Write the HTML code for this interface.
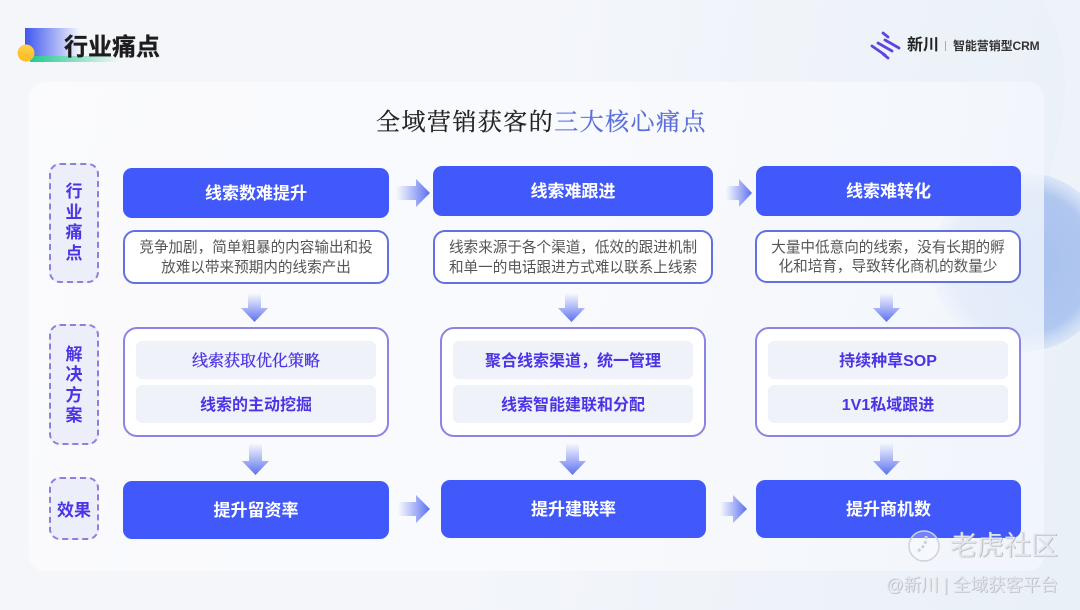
<!DOCTYPE html>
<html lang="zh"><head><meta charset="utf-8">
<style>
*{box-sizing:border-box;margin:0;padding:0}
html,body{width:1080px;height:610px;overflow:hidden}
body{position:relative;background:linear-gradient(100deg,#f5f6fa 0%,#f4f6fa 45%,#e9f0f8 100%);font-family:"Liberation Sans","Noto Sans CJK SC",sans-serif}
.a{position:absolute}
.c{display:flex;align-items:center;justify-content:center;text-align:center}
.card{left:29px;top:82px;width:1015px;height:489px;border-radius:16px;background:linear-gradient(100deg,rgba(250,251,253,.95) 0%,rgba(249,250,253,.95) 50%,rgba(243,247,253,.74) 100%)}
.lab{left:49px;width:50px;border:2px dashed #8d7fe0;border-radius:11px;background:#eceefa;color:#4a35e6;font-size:17px;font-weight:700;line-height:20.5px}
.hd{background:#4159fb;border-radius:9px;color:#fff;font-size:17px;font-weight:700;padding-bottom:4px}
.desc{background:#fff;border:2px solid #6270e4;border-radius:12px;color:#555;font-size:14.6px;line-height:19.5px;white-space:nowrap;padding-top:3px}
.box{background:#fff;border:2px solid #8c83e6;border-radius:14px;top:327px;height:110px}
.in{background:#f0f2f9;border-radius:6px;height:38px;width:240px;color:#4a35e6;font-size:16px;font-weight:700;padding-bottom:3px}
svg.o{position:absolute;left:0;top:0}
</style></head><body>
<svg class="o" width="1080" height="610">
<defs>
<radialGradient id="bl" cx=".5" cy=".5" r=".5"><stop offset="0" stop-color="#a6c0ee"/><stop offset=".8" stop-color="#b0c7ef"/><stop offset="1" stop-color="#cfdef5" stop-opacity=".6"/></radialGradient>
<linearGradient id="r" x1="0" x2="1"><stop offset="0" stop-color="#6a7cf2" stop-opacity="0"/><stop offset="1" stop-color="#5a6ff0"/></linearGradient>
<linearGradient id="d" x1="0" x2="0" y1="0" y2="1"><stop offset="0" stop-color="#6a7cf2" stop-opacity="0"/><stop offset="1" stop-color="#5a6ff0"/></linearGradient>
<linearGradient id="tb" x1="0" x2="1"><stop offset="0" stop-color="#3f57f0"/><stop offset="1" stop-color="#3f57f0" stop-opacity="0"/></linearGradient>
<linearGradient id="tg" x1="0" x2="1"><stop offset="0" stop-color="#20c98c"/><stop offset="1" stop-color="#20c98c" stop-opacity="0"/></linearGradient>
<linearGradient id="y" x1="0" x2="0" y1="0" y2="1"><stop offset="0" stop-color="#fbd34a"/><stop offset="1" stop-color="#fdb924"/></linearGradient>
</defs>
<path d="M1040 0C1085 60 1060 150 1040 200L1080 200V0Z" fill="#eef3fa"/>
<circle cx="1022" cy="262" r="90" fill="url(#bl)"/>
<rect x="25" y="28" width="55" height="28" fill="url(#tb)"/>
<rect x="30" y="56" width="90" height="6" fill="url(#tg)"/>
<circle cx="26" cy="53" r="8.5" fill="url(#y)"/>
</svg>
<div class="a" style="left:64px;top:30px;font-size:24px;font-weight:700;color:#1d1d1f;line-height:36px;white-space:nowrap;-webkit-text-stroke:.3px #1d1d1f">行业痛点</div>

<svg class="o" width="1080" height="610">
<g stroke-linecap="round" stroke-width="2.8" stroke="#5b46e0" fill="none">
<path d="M883 33L888 37M885 40L899 48M878 43L892 51M872 46L885 55M883 54L888 58"/>
</g></svg>
<div class="a" style="left:907px;top:34px;font-size:16px;font-weight:700;color:#222;line-height:24px;white-space:nowrap">新川</div>
<div class="a" style="left:945px;top:41px;width:1px;height:10px;background:#aaa"></div>
<div class="a" style="left:953px;top:37px;font-size:12px;font-weight:700;color:#333;line-height:18px;white-space:nowrap;letter-spacing:-.1px">智能营销型CRM</div>

<div class="a card"></div>
<div class="a" style="left:376px;top:105px;font-family:'Liberation Serif','Noto Serif CJK SC',serif;font-size:24px;letter-spacing:1.45px;line-height:36px;color:#222;white-space:nowrap;-webkit-text-stroke:.25px #222">全域营销获客的<span style="color:#5a6fdc;-webkit-text-stroke:.25px #5a6fdc">三大核心痛点</span></div>

<div class="a lab c" style="top:163px;height:120px">行<br>业<br>痛<br>点</div>
<div class="a lab c" style="top:324px;height:121px"><span style="position:relative;top:1px">解<br>决<br>方<br>案</span></div>
<div class="a lab c" style="top:477px;height:63px;padding-top:5px">效果</div>

<div class="a hd c" style="left:123px;top:168px;width:266px;height:50px">线索数难提升</div>
<div class="a hd c" style="left:433px;top:166px;width:280px;height:50px">线索难跟进</div>
<div class="a hd c" style="left:756px;top:166px;width:265px;height:50px">线索难转化</div>

<div class="a desc c" style="left:123px;top:230px;width:266px;height:54px">竞争加剧，简单粗暴的内容输出和投<br>放难以带来预期内的线索产出</div>
<div class="a desc c" style="left:433px;top:230px;width:280px;height:54px">线索来源于各个渠道，低效的跟进机制<br>和单一的电话跟进方式难以联系上线索</div>
<div class="a desc c" style="left:755px;top:230px;width:266px;height:53px">大量中低意向的线索，没有长期的孵<br>化和培育，导致转化商机的数量少</div>

<div class="a box" style="left:123px;width:266px"></div>
<div class="a box" style="left:440px;width:266px"></div>
<div class="a box" style="left:755px;width:266px"></div>

<div class="a in c" style="left:136px;top:341px;padding-bottom:1px;font-family:'Liberation Serif','Noto Serif CJK SC',serif;font-weight:400;-webkit-text-stroke:.35px #4a35e6">线索获取优化策略</div>
<div class="a in c" style="left:136px;top:385px">线索的主动挖掘</div>
<div class="a in c" style="left:453px;top:341px">聚合线索渠道，统一管理</div>
<div class="a in c" style="left:453px;top:385px">线索智能建联和分配</div>
<div class="a in c" style="left:768px;top:341px">持续种草SOP</div>
<div class="a in c" style="left:768px;top:385px">1V1私域跟进</div>

<div class="a hd c" style="left:123px;top:481px;width:266px;height:58px">提升留资率</div>
<div class="a hd c" style="left:441px;top:480px;width:265px;height:58px">提升建联率</div>
<div class="a hd c" style="left:756px;top:480px;width:265px;height:58px">提升商机数</div>

<svg class="o" width="1080" height="610">
<g fill="url(#r)">
<path d="M396 186h20v-7l14 14-14 14v-7h-20z"/>
<path d="M726 186h13v-7l13 14-13 14v-7h-13z"/>
<path d="M398 502h18v-7l14 14-14 14v-7h-18z"/>
<path d="M720 502h13v-7l14 14-14 14v-7h-13z"/>
</g>
<g fill="url(#d)">
<path d="M248 293h13v15h7l-13.500 14-13.500-14h7z"/>
<path d="M565 293h13v15h7l-13.500 14-13.500-14h7z"/>
<path d="M880 293h13v15h7l-13.500 14-13.500-14h7z"/>
<path d="M249 443h13v18h7l-13.500 14-13.500-14h7z"/>
<path d="M566 443h13v18h7l-13.500 14-13.500-14h7z"/>
<path d="M880 443h13v18h7l-13.500 14-13.500-14h7z"/>
</g>
<circle cx="924" cy="546" r="15" fill="rgba(255,255,255,.25)" stroke="#cfd2d9" stroke-width="1.5"/>
<path d="M926 536c1 6-3 13-10 16" fill="none" stroke="#cfd2d9" stroke-width="3" stroke-dasharray="3 2"/>
</svg>
<div class="a" style="left:950px;top:527px;font-size:27px;font-weight:400;color:#e3e5ea;line-height:38px;white-space:nowrap;text-shadow:.7px .7px .5px #a9acb4">老虎社区</div>
<div class="a" style="left:886px;top:573px;font-size:17.5px;font-weight:400;color:#e3e5ea;line-height:25px;white-space:nowrap;text-shadow:.6px .6px .5px #a9acb4">@新川 | 全域获客平台</div>
</body></html>
